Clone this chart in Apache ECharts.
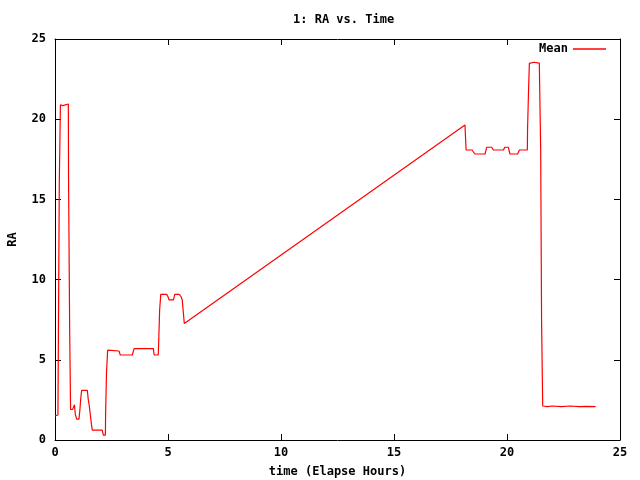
<!DOCTYPE html>
<html>
<head>
<meta charset="utf-8">
<script src="https://cdn.jsdelivr.net/npm/echarts@6/dist/echarts.min.js"></script>
<style>html,body{margin:0;padding:0;background:#fff}#c{width:640px;height:480px}</style>
</head>
<body>
<div id="c"></div>
<script>
var times = [0.0,0.13,0.15,0.19,0.24,0.34,0.59,0.60,0.65,0.69,0.78,0.82,0.86,0.90,0.96,1.06,1.10,1.14,1.18,1.43,1.47,1.52,1.57,1.61,1.65,2.09,2.14,2.23,2.24,2.28,2.33,2.83,2.89,3.42,3.50,4.35,4.39,4.57,4.59,4.63,4.68,4.94,5.00,5.05,5.24,5.30,5.50,5.58,5.63,5.68,5.72,18.14,18.19,18.45,18.58,19.03,19.10,19.32,19.40,19.84,19.90,20.06,20.13,20.47,20.55,20.90,20.91,20.96,20.99,21.20,21.43,21.49,21.53,21.58,21.80,22.00,22.40,22.80,23.20,23.50,23.92];
var raMean = [1.5,1.56,6.4,16.0,20.9,20.85,20.95,16.2,6.7,1.9,1.9,2.05,2.2,1.6,1.3,1.3,1.85,2.6,3.1,3.1,2.55,2.1,2.0,1.0,0.62,0.62,0.3,0.3,1.7,4.26,5.6,5.55,5.3,5.3,5.7,5.7,5.3,5.3,6.2,8.1,9.08,9.08,8.93,8.73,8.73,9.08,9.08,8.93,8.73,8.73,7.27,19.64,18.08,18.08,17.83,17.83,18.25,18.25,18.08,18.08,18.25,18.25,17.83,17.83,18.08,18.08,19.39,22.13,23.48,23.55,23.5,18.14,7.38,2.12,2.08,2.12,2.08,2.12,2.08,2.1,2.08];
var xTicks = [0,5,10,15,20,25];
var yTicks = [0,5,10,15,20,25];

var pts = times.map(function(t,i){return [t, raMean[i]];});
var font = 'DejaVu Sans Mono';
var lab = {fontFamily: font, fontWeight: 'bold', fontSize: 12, color: '#000'};
function axisBase(extra){
  var o = {
    type: 'value', min: xTicks[0], max: xTicks[xTicks.length-1], interval: xTicks[1]-xTicks[0],
    splitLine: {show: false},
    axisLine: {show: true, onZero: false, lineStyle: {color: '#000', width: 1}},
    axisTick: {show: true, inside: true, length: 6, lineStyle: {color: '#000'}}
  };
  for (var k in extra) o[k] = extra[k];
  return o;
}
var chart = echarts.init(document.getElementById('c'), null, {renderer: 'canvas'});
chart.setOption({
  animation: false,
  backgroundColor: '#fff',
  title: {text: '1: RA vs. Time', left: 288, top: 9, textStyle: {fontFamily: font, fontWeight: 'bold', fontSize: 12, color: '#000'}},
  legend: {right: 29, top: 38, align: 'right', itemWidth: 33, itemHeight: 1.5, icon: 'rect',
    textStyle: lab, data: ['Mean']},
  grid: {left: 55, right: 20, top: 39, bottom: 40, containLabel: false, outerBoundsMode: 'none'},
  xAxis: [
    axisBase({position: 'bottom', name: 'time (Elapse Hours)', nameLocation: 'middle', nameGap: 26,
      nameTextStyle: lab, axisLabel: {show: true, margin: 7, fontFamily: font, fontWeight: 'bold', fontSize: 12, color: '#000'}}),
    axisBase({position: 'top', axisLabel: {show: false}})
  ],
  yAxis: [
    axisBase({min: yTicks[0], max: yTicks[yTicks.length-1], interval: yTicks[1]-yTicks[0], position: 'left', name: 'RA', nameLocation: 'middle', nameGap: 36,
      nameTextStyle: lab, axisLabel: {show: true, margin: 9, fontFamily: font, fontWeight: 'bold', fontSize: 12, color: '#000'}}),
    axisBase({min: yTicks[0], max: yTicks[yTicks.length-1], interval: yTicks[1]-yTicks[0], position: 'right', axisLabel: {show: false}})
  ],
  series: [{
    name: 'Mean', type: 'line', data: pts, showSymbol: false, symbol: 'none',
    lineStyle: {color: '#ff0000', width: 1.2}, itemStyle: {color: '#ff0000'}
  }]
});
</script>
</body>
</html>
